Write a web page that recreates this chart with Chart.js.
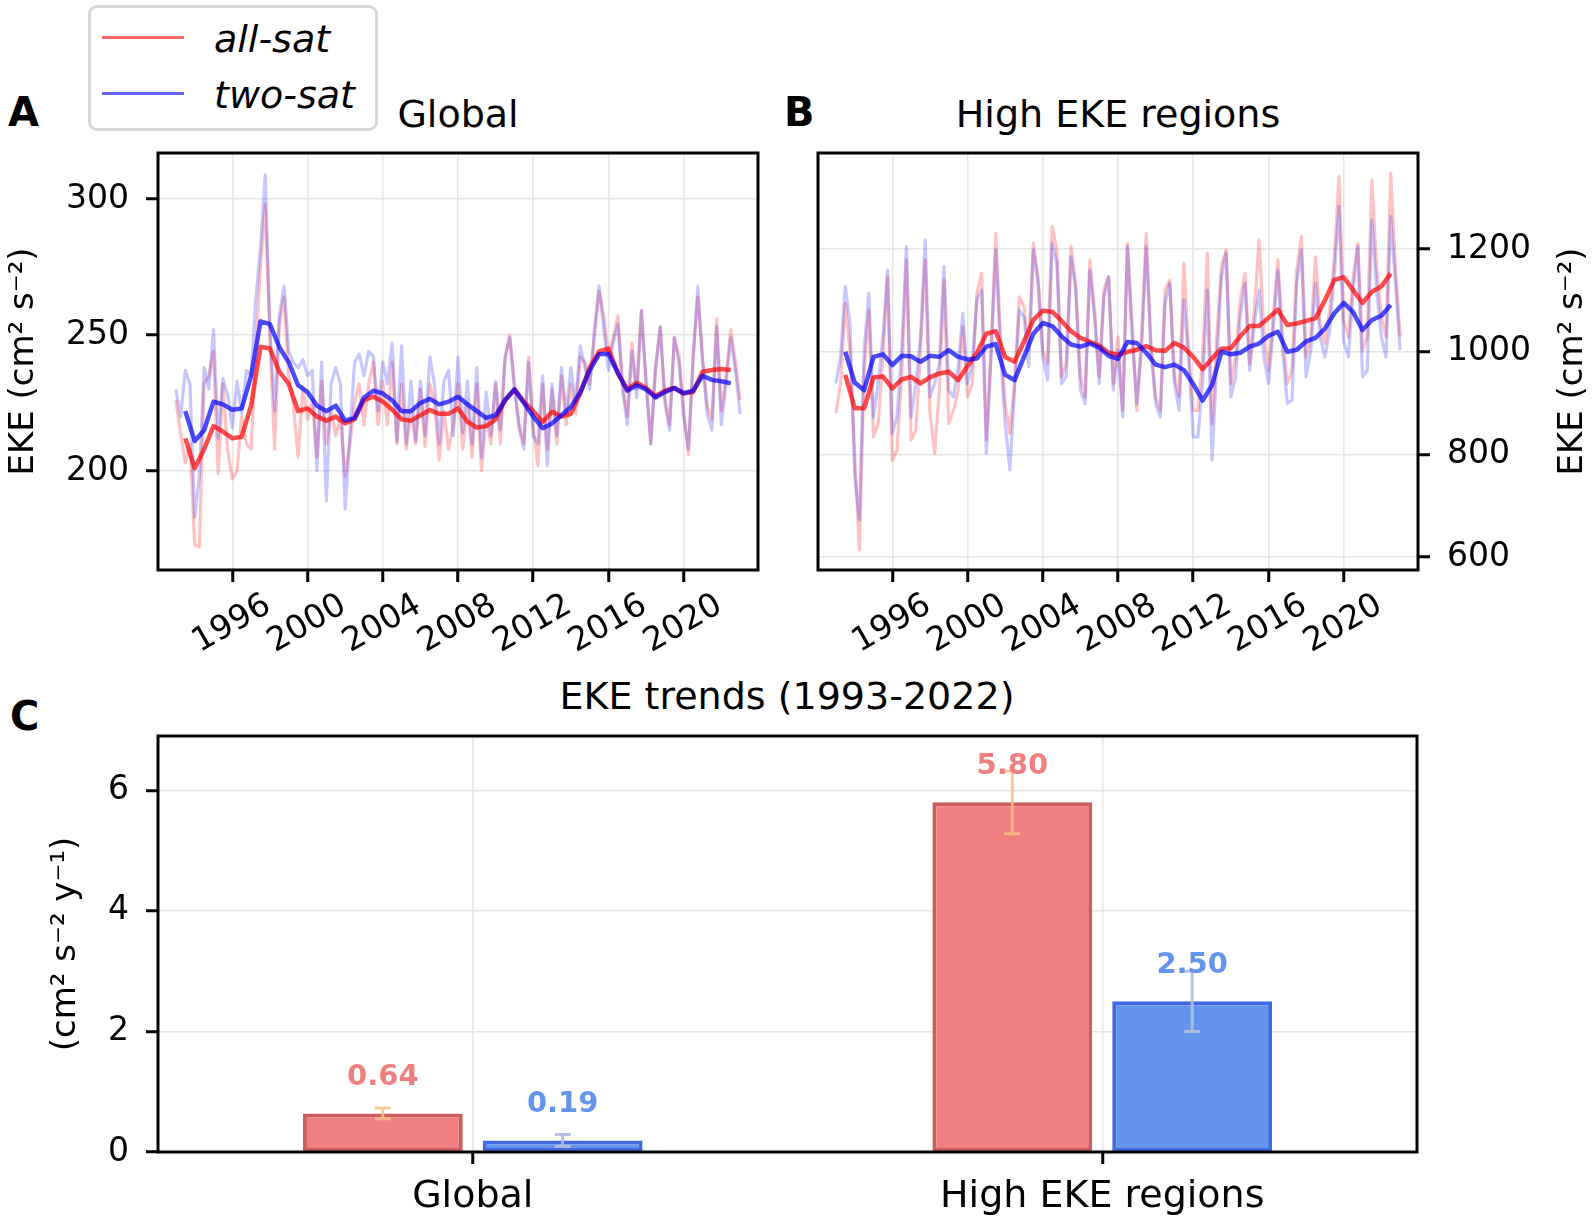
<!doctype html>
<html lang="en">
<head>
<meta charset="utf-8" />
<title>EKE: all-sat vs two-sat</title>
<script src="https://cdn.jsdelivr.net/npm/chart.js@4.4.1/dist/chart.umd.min.js"></script>
<style>
  body {
    margin: 0;
    width: 1593px;
    height: 1222px;
    overflow: hidden;
    background: #fff;
    position: relative;
    font-family: "DejaVu Sans", sans-serif;
  }
  canvas { position: absolute; }
  .txt { position: absolute; white-space: nowrap; line-height: 1; color: #000; }
  .letter { font-size: 40px; font-weight: bold; }
  .title { font-size: 38px; width: 700px; text-align: center; }
  #legend {
    position: absolute; left: 88px; top: 5px; width: 284px; height: 120px;
    border: 3px solid #d6d6d6; border-radius: 9px; background: rgba(255, 255, 255, 0.85);
  }
  #legend .line { position: absolute; left: 11px; width: 82px; height: 3px; }
  #legend .lab { position: absolute; left: 123px; font-size: 38px; font-style: italic; line-height: 1; }
</style>
</head>
<body>
  <div class="txt letter" style="left:8px;top:92px">A</div>
  <div class="txt letter" style="left:784px;top:92px">B</div>
  <div class="txt letter" style="left:10px;top:696px">C</div>
  <div class="txt title" style="left:108px;top:95px">Global</div>
  <div class="txt title" style="left:768px;top:95px">High EKE regions</div>
  <div class="txt title" style="left:437px;top:677px">EKE trends (1993-2022)</div>

  <canvas id="chartA" width="800" height="520" style="left:0;top:140px"></canvas>
  <canvas id="chartB" width="793" height="520" style="left:800px;top:140px"></canvas>
  <canvas id="chartC" width="1593" height="562" style="left:0;top:660px"></canvas>

  <div id="legend">
    <div class="line" style="top:28px;background:rgba(255,0,0,0.6)"></div>
    <div class="lab" style="top:12px">all-sat</div>
    <div class="line" style="top:84px;background:rgba(0,0,255,0.6)"></div>
    <div class="lab" style="top:68px">two-sat</div>
  </div>

<script>
  // ---- data ----
  const yearTicks = [1996, 2000, 2004, 2008, 2012, 2016, 2020];
  const globalTicks = [200, 250, 300];
  const highTicks = [600, 800, 1000, 1200];
  const trendTicks = [0, 2, 4, 6];

  // monthly series sampled quarterly, 1993.0 .. 2023.0
  const rawYears = Array.from({ length: 121 }, (_, i) => 1993 + i / 4);
  // 12-month running means, every half year, 1993.5 .. 2022.5
  const smoothYears = Array.from({ length: 59 }, (_, i) => 1993.5 + i / 2);

  const globalAllRaw = [
    226, 214, 203, 210,  173, 172, 232, 235,  244, 199, 232, 208,  197, 200, 220, 210,
    208, 244, 275, 298,  249, 208, 254, 264,  235, 224, 205, 231,  219, 226, 205, 233,
    210, 222, 213, 220,  198, 210, 225, 232,  217, 232, 240, 217,  233, 217, 240, 210,
    232, 208, 222, 210,  230, 209, 232, 225,  204, 222, 208, 217,  232, 208, 225, 205,
    232, 200, 220, 210,  232, 210, 241, 250,  232, 217, 210, 242,  216, 202, 232, 208,
    230, 210, 235, 217,  232, 221, 242, 240,  232, 249, 266, 257,  242, 249, 257, 232,
    220, 247, 230, 259,  233, 210, 238, 253,  227, 217, 249, 242,  222, 206, 242, 264,
    242, 224, 219, 256,  222, 235, 252, 240,  226
  ];
  const globalTwoRaw = [
    230, 220, 237, 232,  183, 198, 238, 230,  252, 212, 234, 228,  216, 233, 221, 237,
    235, 263, 282, 309,  252, 222, 257, 268,  244, 240, 238, 241,  235, 237, 200, 240,
    189, 232, 238, 232,  186, 213, 240, 243,  235, 244, 242, 222,  240, 232, 247, 211,
    246, 210, 233, 211,  233, 213, 242, 232,  210, 233, 237, 213,  242, 214, 233, 210,
    238, 205, 229, 213,  233, 215, 242, 249,  230, 216, 208, 240,  213, 210, 235, 202,
    232, 213, 238, 221,  238, 225, 246, 238,  230, 252, 268, 252,  237, 247, 254, 230,
    217, 244, 227, 259,  232, 210, 237, 253,  225, 215, 249, 240,  220, 208, 241, 268,
    240, 221, 215, 253,  217, 232, 249, 237,  221
  ];
  const globalAllSmooth = [
    212, 201, 208, 216.5, 214.5, 212, 212.6, 224, 245.7, 245, 236.5, 232, 222, 223, 220,
    218.5, 220, 217.5, 219, 226, 227.3, 225.5, 222.5, 219, 218.5, 220.5, 222.4, 221, 221, 223,
    218.1, 216, 216.5, 219, 226, 230, 225.5, 222, 218.1, 221.8, 220, 221, 228.5, 238, 244,
    245, 236, 230, 232.5, 230.5, 227.5, 229.5, 230.5, 228.5, 229, 236.5, 237.1, 237.5, 237.1
  ];
  const globalTwoSmooth = [
    222, 211, 215, 225.5, 224.5, 222.5, 223, 235, 255, 254, 245.5, 240, 231.5, 229, 224,
    222, 224, 218.5, 219.5, 227, 229.5, 228.5, 226, 222, 222, 225, 226.5, 224.5, 225.5, 227.3,
    224.5, 222, 219.5, 220.5, 226, 230, 225, 220, 215.7, 217.5, 220.5, 223.5, 229, 237, 243,
    243, 236, 229.5, 231.5, 230, 227, 229, 230.5, 228.6, 229.5, 235, 233.5, 233, 232.2
  ];

  const highAllRaw = [
    880, 938, 1094, 1003,  800, 614, 960, 1081,  834, 860, 990, 1146,  789, 808, 951, 1179,
    828, 847, 1003, 1179,  880, 802, 925, 1140,  860, 886, 925, 1049,  912, 938, 1114, 1153,
    828, 1003, 1231, 1029,  899, 841, 938, 1107,  1088, 1003, 1211, 1146,  1003, 977, 1244, 1198,
    951, 977, 1205, 1133,  951, 912, 1179, 1081,  951, 1120, 1146, 938,  1029, 886, 1211, 1055,
    886, 1029, 1231, 1016,  912, 886, 1120, 1140,  951, 912, 1172, 1003,  886, 886, 990, 1192,
    860, 1029, 1166, 1198,  938, 990, 1101, 1153,  977, 1081, 1218, 1042,  964, 1068, 1179, 1029,
    938, 964, 1159, 1224,  990, 1029, 1185, 1055,  1016, 1080, 1180, 1341,  1060, 1029, 1146, 1211,
    1003, 1029, 1334, 1166,  1068, 1029, 1347, 1166,  1029
  ];
  const highTwoRaw = [
    938, 990, 1127, 1055,  760, 672, 1000, 1114,  873, 938, 1029, 1159,  841, 873, 1003, 1205,
    873, 938, 1029, 1218,  912, 938, 977, 1166,  925, 912, 971, 1075,  938, 977, 1101, 1120,
    802, 990, 1198, 1003,  860, 770, 925, 1081,  1068, 971, 1198, 1133,  990, 945, 1211, 1172,
    938, 951, 1185, 1120,  925, 899, 1159, 1068,  938, 1107, 1146, 925,  1003, 873, 1205, 1029,
    899, 1003, 1205, 1003,  899, 873, 1094, 1133,  938, 886, 1101, 990,  834, 834, 938, 1120,
    789, 977, 1146, 1192,  912, 951, 1068, 1133,  964, 1055, 1120, 990,  938, 1042, 1159, 1003,
    899, 906, 1133, 1198,  951, 1003, 1133, 1029,  990, 1040, 1150, 1283,  1020, 990, 1120, 1205,
    951, 964, 1257, 1120,  1029, 990, 1263, 1133,  1003
  ];
  const highAllSmooth = [
    955, 890, 890, 950, 952, 928.6, 946, 951, 938.3, 950, 957.8, 961, 944.8, 972, 998,
    1035, 1040, 990, 980.5, 1020, 1062, 1080, 1078, 1060, 1040, 1027, 1019.5, 1012, 998, 994,
    1000, 1004, 1011, 1003, 1002, 1017, 1008, 990, 966, 987, 1006, 1007, 1030, 1050, 1050,
    1066, 1082, 1052, 1055, 1060, 1065, 1100, 1140, 1145, 1120, 1095, 1117, 1127, 1152.6
  ];
  const highTwoSmooth = [
    1000, 940, 925, 990, 995, 974, 992, 991, 980.5, 992, 990, 1003, 990, 985, 987,
    1010, 1015, 955, 944.8, 990, 1035, 1056, 1050, 1030, 1014, 1010, 1016, 1008, 992, 986,
    1019, 1017, 998, 975, 970, 975, 964.3, 937, 905, 935, 1000, 995, 998, 1010, 1016,
    1031, 1039, 1000, 1004, 1020, 1027, 1045, 1075, 1095, 1077, 1042.2, 1061.7, 1070, 1091
  ];

  const trendCategories = ['Global', 'High EKE regions'];
  const allSatTrend = [0.64, 5.80];
  const twoSatTrend = [0.19, 2.50];
  const allSatErr = [0.09, 0.52];
  const twoSatErr = [0.10, 0.50];

  const ekeLabel = 'EKE (cm\u00B2 s\u207B\u00B2)';
  const trendLabel = '(cm\u00B2 s\u207B\u00B2 y\u207B\u00B9)';

  // ---- styling ----
  Chart.defaults.font.family = '"DejaVu Sans", sans-serif';
  Chart.defaults.color = '#000';
  const gridColor = '#e6e6e6';
  const tickFont = { size: 33 };

  function flatten(scale) {
    scale.paddingLeft = scale.paddingRight = scale.paddingTop = scale.paddingBottom = 0;
  }

  function points(xs, ys) {
    return xs.map((x, i) => ({ x: x, y: ys[i] }));
  }

  const frame = {
    id: 'frame',
    afterDraw(chart) {
      const { ctx, chartArea: a } = chart;
      ctx.save();
      ctx.strokeStyle = '#000';
      ctx.lineWidth = 3;
      ctx.strokeRect(a.left, a.top, a.right - a.left, a.bottom - a.top);
      ctx.restore();
    }
  };

  function gridOpts() {
    return { color: gridColor, lineWidth: 1.5, tickColor: '#000', tickLength: 12, tickWidth: 3 };
  }

  function timeAxis() {
    return {
      type: 'linear',
      min: 1992.05,
      max: 2023.95,
      afterBuildTicks: s => { s.ticks = yearTicks.map(v => ({ value: v })); },
      afterFit: s => { s.height = 90; flatten(s); },
      ticks: {
        autoSkip: false, minRotation: 30, maxRotation: 30,
        labelOffset: 36, padding: 4, font: tickFont,
        callback: v => String(v)
      },
      grid: gridOpts(),
      border: { display: false }
    };
  }

  function seriesSets(allRaw, twoRaw, allSmooth, twoSmooth) {
    const base = { pointRadius: 0, tension: 0, fill: false, borderJoinStyle: 'round' };
    return [
      Object.assign({ label: 'two-sat', data: points(smoothYears, twoSmooth), borderColor: 'rgba(0,0,255,0.7)', borderWidth: 4.5 }, base),
      Object.assign({ label: 'all-sat', data: points(smoothYears, allSmooth), borderColor: 'rgba(255,0,0,0.7)', borderWidth: 4.5 }, base),
      Object.assign({ label: 'two-sat raw', data: points(rawYears, twoRaw), borderColor: 'rgba(0,0,255,0.22)', borderWidth: 3.2 }, base),
      Object.assign({ label: 'all-sat raw', data: points(rawYears, allRaw), borderColor: 'rgba(255,0,0,0.24)', borderWidth: 3.2 }, base)
    ];
  }

  const quiet = { legend: { display: false }, tooltip: { enabled: false } };

  // ---- A: global ----
  new Chart(document.getElementById('chartA'), {
    type: 'line',
    data: { datasets: seriesSets(globalAllRaw, globalTwoRaw, globalAllSmooth, globalTwoSmooth) },
    options: {
      responsive: false,
      animation: false,
      layout: { padding: { left: 0, right: 42, top: 13, bottom: 0 } },
      plugins: quiet,
      scales: {
        x: timeAxis(),
        y: {
          type: 'linear',
          min: 163.6,
          max: 316.9,
          afterBuildTicks: s => { s.ticks = globalTicks.map(v => ({ value: v })); },
          afterFit: s => { s.width = 158; flatten(s); },
          ticks: { font: tickFont, padding: 17, callback: v => String(v) },
          grid: gridOpts(),
          border: { display: false },
          title: { display: true, text: ekeLabel, font: { size: 34 }, padding: { top: 4, bottom: 0 } }
        }
      }
    },
    plugins: [frame]
  });

  // ---- B: high EKE regions (axis on the right) ----
  const rightTitle = {
    id: 'rightTitle',
    afterDraw(chart) {
      const { ctx, chartArea: a } = chart;
      ctx.save();
      ctx.translate(chart.width - 20, (a.top + a.bottom) / 2);
      ctx.rotate(-Math.PI / 2);
      ctx.font = '34px "DejaVu Sans"';
      ctx.fillStyle = '#000';
      ctx.textAlign = 'center';
      ctx.textBaseline = 'middle';
      ctx.fillText(ekeLabel, 0, 0);
      ctx.restore();
    }
  };

  new Chart(document.getElementById('chartB'), {
    type: 'line',
    data: { datasets: seriesSets(highAllRaw, highTwoRaw, highAllSmooth, highTwoSmooth) },
    options: {
      responsive: false,
      animation: false,
      layout: { padding: { left: 18, right: 0, top: 13, bottom: 0 } },
      plugins: quiet,
      scales: {
        x: timeAxis(),
        y: {
          type: 'linear',
          position: 'right',
          min: 575,
          max: 1387,
          afterBuildTicks: s => { s.ticks = highTicks.map(v => ({ value: v })); },
          afterFit: s => { s.width = 175; flatten(s); },
          ticks: { font: tickFont, padding: 17, callback: v => String(v) },
          grid: gridOpts(),
          border: { display: false }
        }
      }
    },
    plugins: [frame, rightTitle]
  });

  // ---- C: trends ----
  const labelLift = 0.47;
  const errorBars = {
    id: 'errorBars',
    afterDatasetsDraw(chart) {
      const { ctx } = chart;
      const y = chart.scales.y;
      ctx.save();
      chart.data.datasets.forEach((ds, d) => {
        chart.getDatasetMeta(d).data.forEach((bar, i) => {
          const v = ds.data[i];
          const e = ds.errors[i];
          const top = y.getPixelForValue(v + e);
          const bottom = y.getPixelForValue(v - e);
          ctx.strokeStyle = ds.errorColor;
          ctx.lineWidth = 3;
          ctx.beginPath();
          ctx.moveTo(bar.x, top); ctx.lineTo(bar.x, bottom);
          ctx.moveTo(bar.x - 8, top); ctx.lineTo(bar.x + 8, top);
          ctx.moveTo(bar.x - 8, bottom); ctx.lineTo(bar.x + 8, bottom);
          ctx.stroke();
          ctx.fillStyle = ds.valueColor;
          ctx.font = 'bold 29px "DejaVu Sans"';
          ctx.textAlign = 'center';
          ctx.textBaseline = 'alphabetic';
          ctx.fillText(v.toFixed(2), bar.x, y.getPixelForValue(v + labelLift));
        });
      });
      ctx.restore();
    }
  };

  new Chart(document.getElementById('chartC'), {
    type: 'bar',
    data: {
      labels: trendCategories,
      datasets: [
        {
          label: 'all-sat', data: allSatTrend, errors: allSatErr,
          backgroundColor: 'rgb(240,128,128)', borderColor: 'rgb(205,92,92)', borderWidth: 4,
          borderSkipped: false, categoryPercentage: 0.5714, barPercentage: 0.8889,
          errorColor: 'rgba(245,190,130,0.85)', valueColor: 'rgb(240,128,128)'
        },
        {
          label: 'two-sat', data: twoSatTrend, errors: twoSatErr,
          backgroundColor: 'rgb(100,149,237)', borderColor: 'rgb(65,105,225)', borderWidth: 4,
          borderSkipped: false, categoryPercentage: 0.5714, barPercentage: 0.8889,
          errorColor: 'rgba(176,190,220,0.95)', valueColor: 'rgb(100,149,237)'
        }
      ]
    },
    options: {
      responsive: false,
      animation: false,
      layout: { padding: { left: 0, right: 176, top: 76, bottom: 0 } },
      plugins: quiet,
      scales: {
        x: {
          afterFit: s => { s.height = 70; flatten(s); },
          ticks: { font: { size: 38 }, padding: 10 },
          grid: Object.assign(gridOpts(), { offset: false }),
          border: { display: false }
        },
        y: {
          min: 0,
          max: 6.9,
          afterBuildTicks: s => { s.ticks = trendTicks.map(v => ({ value: v })); },
          afterFit: s => { s.width = 158; flatten(s); },
          ticks: { font: tickFont, padding: 17 },
          grid: gridOpts(),
          border: { display: false },
          title: { display: true, text: trendLabel, font: { size: 34 }, padding: { top: 46, bottom: 0 } }
        }
      }
    },
    plugins: [errorBars, frame]
  });
</script>
</body>
</html>
